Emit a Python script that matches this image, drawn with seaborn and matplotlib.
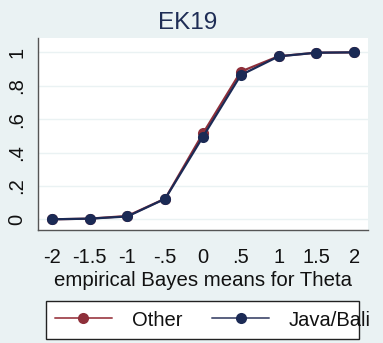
import matplotlib
matplotlib.use("Agg")
import matplotlib.pyplot as plt
from matplotlib.patches import Rectangle
import seaborn as sns
import pandas as pd

theta = [-2, -1.5, -1, -0.5, 0, 0.5, 1, 1.5, 2]
other = [0.0, 0.004, 0.02, 0.124, 0.515, 0.885, 0.977, 0.998, 1.0]
java_bali = [0.0, 0.004, 0.017, 0.123, 0.495, 0.864, 0.976, 0.998, 1.0]
groups = ["Other", "Java/Bali"]
x_ticks = [-2, -1.5, -1, -0.5, 0, 0.5, 1, 1.5, 2]
x_labels = ["-2", "-1.5", "-1", "-.5", "0", ".5", "1", "1.5", "2"]
y_ticks = [0, 0.2, 0.4, 0.6, 0.8, 1]
y_labels = ["0", ".2", ".4", ".6", ".8", "1"]

df = pd.DataFrame({
    "theta": theta * 2,
    "p": other + java_bali,
    "group": [groups[0]] * len(theta) + [groups[1]] * len(theta),
})

sns.set_style("white")
plt.rcParams["font.family"] = ["Liberation Sans", "DejaVu Sans"]

W, H = 383, 343
bg = "#EAF2F3"
palette = {"Other": "#8E2F3A", "Java/Bali": "#1B2A55"}

fig = plt.figure(figsize=(W / 100, H / 100), dpi=100, facecolor=bg)
ax = fig.add_axes([38 / W, (H - 230) / H, 330 / W, (230 - 38) / H])
ax.set_facecolor("white")

sns.lineplot(data=df, x="theta", y="p", hue="group", hue_order=groups,
             palette=palette, marker="o", markersize=8, markeredgewidth=0,
             linewidth=1.6, dashes=False, ax=ax, legend=False)

ax.set_xlim(-2.181, 2.181)
ax.set_ylim(-0.064, 1.086)
ax.set_xticks(x_ticks)
ax.set_xticklabels(x_labels, fontsize=14.5)
ax.set_yticks(y_ticks)
ax.set_yticklabels(y_labels, fontsize=14.5, rotation=90, va="center")
ax.grid(axis="y", color=bg, linewidth=1.0)
ax.set_axisbelow(True)
for s in ["top", "right"]:
    ax.spines[s].set_visible(False)
for s in ["left", "bottom"]:
    ax.spines[s].set_color("#555555")
    ax.spines[s].set_linewidth(1.0)
ax.tick_params(axis="both", direction="out", length=6, width=1.0,
               color="#555555", labelcolor="#111111")
ax.tick_params(axis="x", pad=7)
ax.tick_params(axis="y", pad=2.5)
ax.set_xlabel("empirical Bayes means for Theta", fontsize=14.7,
              color="#111111", labelpad=3)
ax.set_ylabel("")

fig.text(188 / W, 1 - 23 / H, "EK19", ha="center", va="center",
         fontsize=17.5, color="#1E2D55")

# legend frame below the plot
fig.patches.append(Rectangle((46 / W, 1 - 339 / H), (359 - 46) / W, (339 - 301) / H,
                             transform=fig.transFigure, facecolor="white",
                             edgecolor="#222222", linewidth=1.0, zorder=1))

handles = []
for g, lc in zip(groups, ["#A8545C", "#59607F"]):
    h = plt.Line2D([], [], color=lc, marker="o", markersize=8,
                   markeredgewidth=0, markerfacecolor=palette[g], linewidth=1.4)
    handles.append(h)
leg = fig.legend(handles, groups, loc="center left", ncol=2,
                 bbox_to_anchor=(55 / W, 1 - 320 / H), borderaxespad=0,
                 borderpad=0, fontsize=14.5, frameon=False, handlelength=2.83,
                 handletextpad=0.99, columnspacing=1.47)
leg.set_zorder(3)
for t in leg.get_texts():
    t.set_color("#111111")

fig.savefig("out.png", dpi=100, facecolor=bg)
